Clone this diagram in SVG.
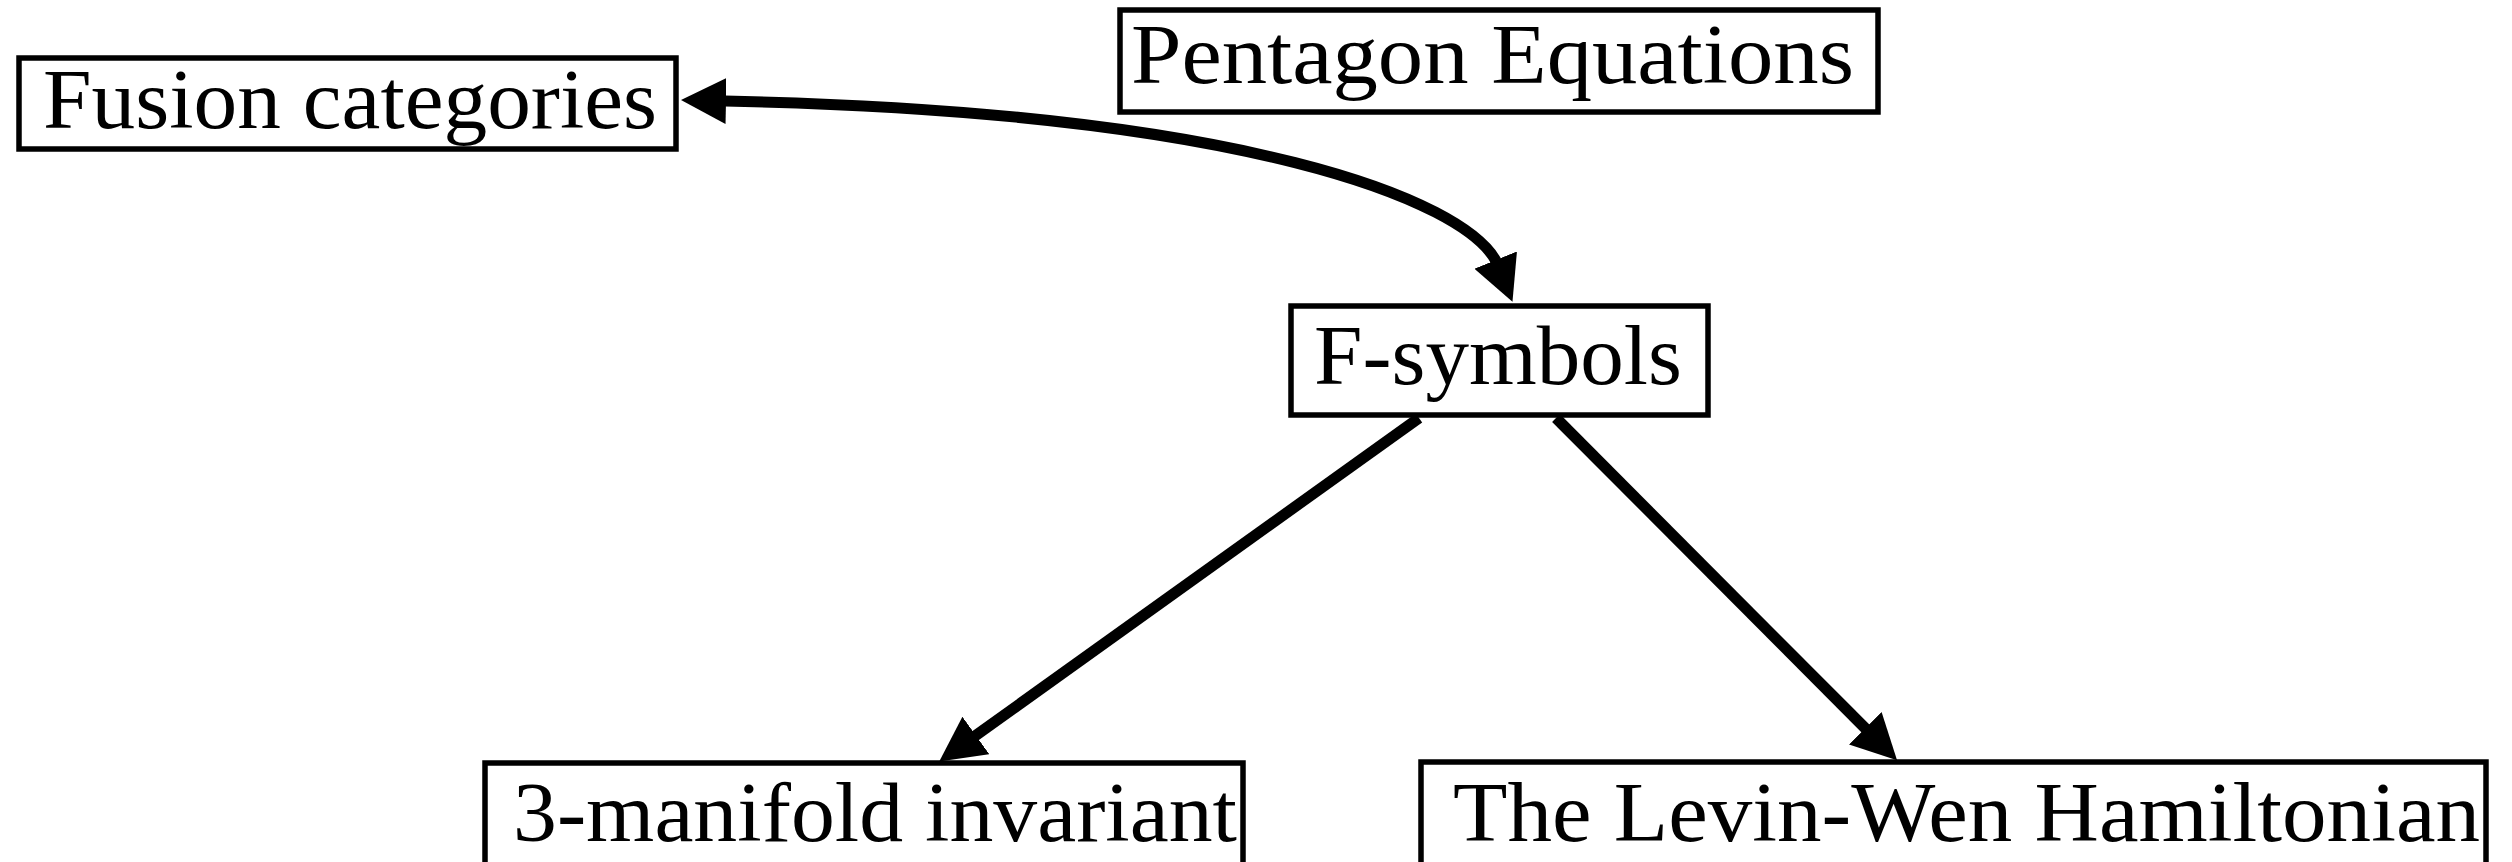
<svg xmlns="http://www.w3.org/2000/svg" width="2512" height="862" viewBox="0 0 2512 862">
<style>
.box{fill:#fff;stroke:#000;stroke-width:5.5}
.lbl{font-family:"Liberation Serif","DejaVu Serif",serif;font-size:84px;fill:#000}
.edge{fill:none;stroke:#000;stroke-width:11}
</style>
<defs>
<marker id="ah" markerUnits="userSpaceOnUse" markerWidth="45" markerHeight="46" viewBox="0 0 45 46" refX="1" refY="23" orient="auto-start-reverse">
<path d="M0,0 L45,23 L0,46 z" fill="#000"/>
</marker>
<marker id="ahF" markerUnits="userSpaceOnUse" markerWidth="45" markerHeight="46" viewBox="0 0 45 46" refX="1" refY="23" orient="68">
<path d="M0,0 L45,23 L0,46 z" fill="#000"/>
</marker>
</defs>
<rect width="2512" height="862" fill="#fff"/>
<g id="fusion">
<rect class="box" x="19" y="58" width="657" height="91"/>
<text class="lbl" x="43" y="128" textLength="614" lengthAdjust="spacingAndGlyphs">Fusion categories</text>
</g>
<g id="pentagon">
<rect class="box" x="1120" y="10" width="758" height="102"/>
<text class="lbl" x="1131" y="83" textLength="723" lengthAdjust="spacingAndGlyphs">Pentagon Equations</text>
</g>
<g id="fsymbols">
<rect class="box" x="1291" y="306" width="417" height="109"/>
<text class="lbl" x="1314" y="384" textLength="368" lengthAdjust="spacingAndGlyphs">F-symbols</text>
</g>
<g id="manifold">
<rect class="box" x="485" y="763" width="758" height="120"/>
<text class="lbl" x="513" y="841" textLength="724" lengthAdjust="spacingAndGlyphs">3-manifold invariant</text>
</g>
<g id="levinwen">
<rect class="box" x="1421" y="762" width="1065" height="120"/>
<text class="lbl" x="1453" y="841" textLength="1027" lengthAdjust="spacingAndGlyphs">The Levin-Wen Hamiltonian</text>
</g>
<g id="connectors">
<path class="edge" d="M725,101 C1250,112 1463,201 1496,261" marker-start="url(#ah)" marker-end="url(#ahF)"/>
<path class="edge" d="M1419,418 L975,736" marker-end="url(#ah)"/>
<path class="edge" d="M1556,418 L1866,729" marker-end="url(#ah)"/>
</g>
</svg>
